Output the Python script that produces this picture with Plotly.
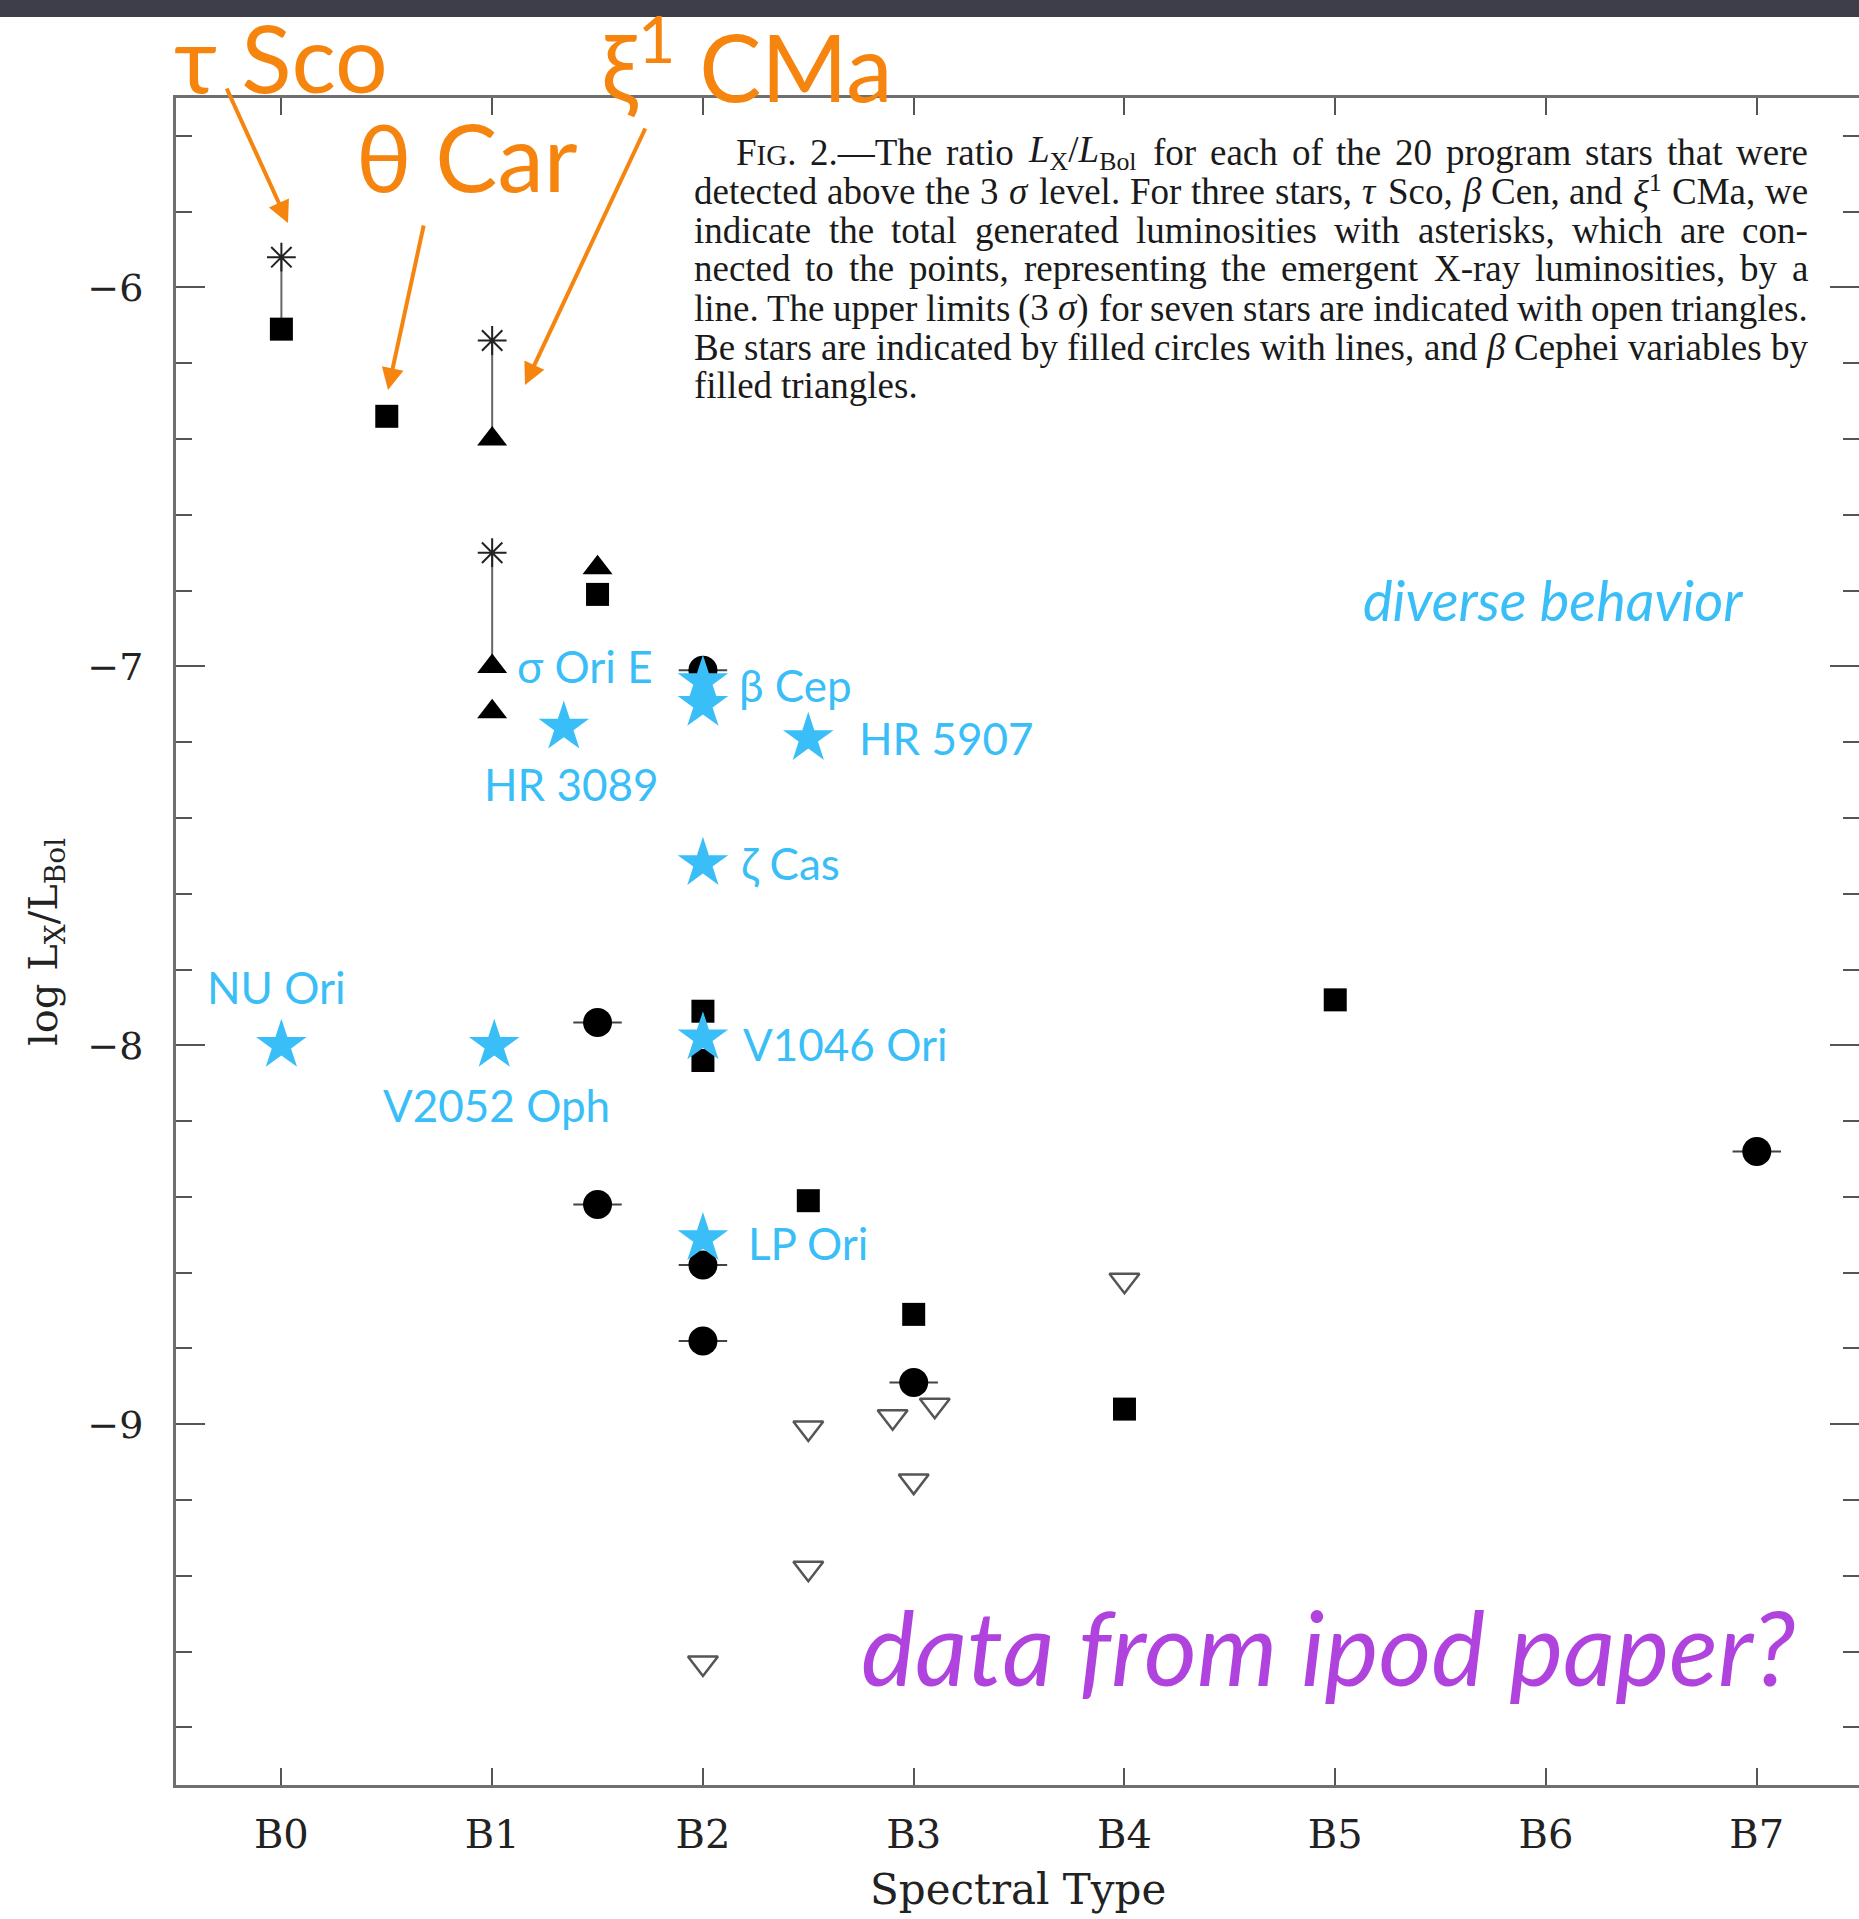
import plotly.graph_objects as go

# ---------------------------------------------------------------- data
# Spectral subtype on x (0 = B0 ... 7 = B7), log(Lx/Lbol) on y
TYPE_TICKS = [0, 1, 2, 3, 4, 5, 6, 7]
TYPE_LABELS = ["B0", "B1", "B2", "B3", "B4", "B5", "B6", "B7"]
LOG_TICKS = [-6, -7, -8, -9]

# X-ray detections (filled squares)
sq_x = [0, 0.5, 1.5, 2, 2, 2.5, 3, 4, 5]
sq_y = [-6.11, -6.34, -6.81, -7.91, -8.04, -8.41, -8.71, -8.96, -7.88]

# Be stars (filled circles with lines)
be_x = [1.5, 1.5, 2, 2, 2, 3, 7]
be_y = [-7.94, -8.42, -7.01, -8.58, -8.78, -8.89, -8.28]

# beta Cephei variables (filled triangles)
bc_x = [1, 1, 1, 1.5]
bc_y = [-6.40, -7.00, -7.12, -6.74]

# 3-sigma upper limits (open triangles)
ul_x = [4, 2.5, 2.9, 3.1, 3, 2.5, 2]
ul_y = [-8.62, -9.01, -8.98, -8.95, -9.15, -9.38, -9.63]

# total generated luminosities (asterisks) and the emergent point each joins
tot_x = [0, 1, 1]
tot_y = [-5.92, -6.14, -6.70]
emg_y = [-6.11, -6.40, -7.00]

# highlighted magnetic stars
mag_names = ["NU Ori", "V2052 Oph", "HR 3089", "σ Ori E", "β Cep",
             "HR 5907", "ζ Cas", "V1046 Ori", "LP Ori"]
mag_x = [0, 1.01, 1.34, 2, 2, 2.5, 2, 2, 2]
mag_y = [-8.0, -8.0, -7.16, -7.04, -7.10, -7.19, -7.52, -7.98, -8.51]
# label offsets from each star, in pixels (dx right, dy up)
mag_dx = [-76, -113, -82, -188, 34, 49, 36, 38, 43]
mag_dy = [58, -60, -57, 16, 19, 0, 0, -6, -4]

# figure caption (justified block)
CAPTION_SIZE = 37
SMALLCAP = "<span style='font-size:%dpx'>" % round(CAPTION_SIZE * 0.78)
CAPTION = [
    "F" + SMALLCAP + "IG</span>. 2.—The ratio <i>L</i><sub>X</sub>/<i>L</i><sub>Bol</sub> "
    "for each of the 20 program stars that were",
    "detected above the 3 <i>σ</i> level. For three stars, <i>τ</i> Sco, <i>β</i> Cen, "
    "and <i>ξ</i><sup>1</sup> CMa, we",
    "indicate the total generated luminosities with asterisks, which are con-",
    "nected to the points, representing the emergent X-ray luminosities, by a",
    "line. The upper limits (3 <i>σ</i>) for seven stars are indicated with open triangles.",
    "Be stars are indicated by filled circles with lines, and <i>β</i> Cephei variables by",
    "filled triangles.",
]

# ---------------------------------------------------------------- geometry
W, H = 1859, 1919
L, R, T, B = 176, 1859, 98, 1785
X_RANGE = [-0.5, 7.485]
Y_RANGE = [-9.952, -5.5]


def px(x):
    """figure pixel column -> paper x"""
    return (x - L) / (R - L)


def py(y):
    """figure pixel row -> paper y"""
    return (B - y) / (B - T)


def dx_(x):
    """figure pixel column -> data x"""
    return X_RANGE[0] + (x - L) / (R - L) * (X_RANGE[1] - X_RANGE[0])


def dy_(y):
    """figure pixel row -> data y"""
    return Y_RANGE[1] - (y - T) / (B - T) * (Y_RANGE[1] - Y_RANGE[0])


# Times advance widths (1/1000 em) used to justify the caption words
_TIMES = {" ": 250, "a": 444, "b": 500, "c": 444, "d": 500, "e": 444, "f": 333,
          "g": 500, "h": 500, "i": 278, "j": 278, "k": 500, "l": 278, "m": 778,
          "n": 500, "o": 500, "p": 500, "q": 500, "r": 333, "s": 389, "t": 278,
          "u": 500, "v": 500, "w": 722, "x": 500, "y": 500, "z": 444,
          "A": 722, "B": 667, "C": 667, "D": 722, "E": 611, "F": 556, "G": 722,
          "H": 722, "I": 333, "J": 389, "K": 722, "L": 611, "M": 889, "N": 722,
          "O": 722, "P": 556, "Q": 722, "R": 667, "S": 556, "T": 611, "U": 722,
          "V": 722, "W": 944, "X": 722, "Y": 722, "Z": 611,
          ".": 250, ",": 250, "-": 333, "(": 333, ")": 333, "—": 1000, "/": 278,
          "σ": 550, "τ": 440, "β": 500, "ξ": 440}


def split_words(s):
    """split on spaces that are not inside a markup tag"""
    words, cur, in_tag = [], "", False
    for ch in s:
        if ch == "<":
            in_tag = True
        elif ch == ">":
            in_tag = False
        if ch == " " and not in_tag:
            words.append(cur)
            cur = ""
        else:
            cur += ch
    words.append(cur)
    return words


def word_width(s, size):
    total, scale, i = 0.0, [1.0], 0
    while i < len(s):
        if s[i] == "<":
            j = s.index(">", i)
            tag = s[i + 1:j]
            if tag.startswith("/"):
                scale.pop()
            elif tag in ("sub", "sup"):
                scale.append(scale[-1] * 0.7)
            elif tag.startswith("span"):
                scale.append(scale[-1] * 0.78)
            else:
                scale.append(scale[-1])
            i = j + 1
            continue
        total += _TIMES.get(s[i], 500) * scale[-1]
        i += 1
    return total * size / 1000.0


ORANGE = "#F5850E"
BLUE = "#3ABEF7"
PURPLE = "#B042DD"
SLIDE_FONT = "Lato, 'Open Sans', sans-serif"
SERIF = "'Liberation Serif', 'DejaVu Serif', serif"
AXIS_FONT = "'DejaVu Serif', serif"

fig = go.Figure()

# lines joining total and emergent luminosities
for x0, yt, ye in zip(tot_x, tot_y, emg_y):
    fig.add_trace(go.Scatter(x=[x0, x0], y=[yt, ye], mode="lines",
                             line=dict(color="#666666", width=2),
                             hoverinfo="skip", showlegend=False))

fig.add_trace(go.Scatter(x=tot_x, y=tot_y, mode="markers", name="total",
                         marker=dict(symbol="asterisk-open", size=24,
                                     color="#222222",
                                     line=dict(color="#222222", width=2)),
                         showlegend=False))

fig.add_trace(go.Scatter(x=sq_x, y=sq_y, mode="markers", name="detections",
                         marker=dict(symbol="square", size=23, color="black"),
                         showlegend=False))

fig.add_trace(go.Scatter(x=be_x, y=be_y, mode="markers", name="Be stars",
                         marker=dict(symbol="circle", size=29, color="black"),
                         error_x=dict(type="constant", value=0.115, width=0,
                                      thickness=2, color="#444444"),
                         showlegend=False))

fig.add_trace(go.Scatter(x=bc_x, y=bc_y, mode="markers", name="beta Cep",
                         marker=dict(symbol="triangle-up", size=26, color="black"),
                         showlegend=False))

fig.add_trace(go.Scatter(x=ul_x, y=ul_y, mode="markers", name="upper limits",
                         marker=dict(symbol="triangle-down-open", size=26,
                                     color="#555555",
                                     line=dict(color="#555555", width=2.5)),
                         showlegend=False))

fig.add_trace(go.Scatter(x=mag_x, y=mag_y, mode="markers", name="magnetic",
                         marker=dict(symbol="star", size=38, color=BLUE),
                         showlegend=False))

# right-hand tick marks without a frame line
fig.add_trace(go.Scatter(x=[], y=[], yaxis="y2", showlegend=False,
                         hoverinfo="skip"))

annotations = []

# star labels
for name, x0, y0, ddx, ddy in zip(mag_names, mag_x, mag_y, mag_dx, mag_dy):
    annotations.append(dict(x=x0, y=y0, xref="x", yref="y", text=name,
                            showarrow=False, xanchor="left", yanchor="middle",
                            xshift=ddx, yshift=ddy,
                            font=dict(family=SLIDE_FONT, size=44, color=BLUE)))

annotations.append(dict(x=px(1361), y=py(599), xref="paper", yref="paper",
                        text="<i>diverse behavior</i>", showarrow=False,
                        xanchor="left", yanchor="middle",
                        font=dict(family=SLIDE_FONT, size=56, color=BLUE)))

annotations.append(dict(x=px(859), y=py(1646), xref="paper", yref="paper",
                        text="<i>data from ipod paper?</i>", showarrow=False,
                        xanchor="left", yanchor="middle",
                        font=dict(family=SLIDE_FONT, size=102, color=PURPLE)))

# orange star names with arrows
for text, lx, ly in [("τ Sco", 172, 57), ("θ Car", 354, 156),
                     ("ξ<sup>1</sup> CMa", 599, 60)]:
    annotations.append(dict(x=px(lx), y=py(ly), xref="paper", yref="paper",
                            text=text, showarrow=False, xanchor="left",
                            yanchor="middle",
                            font=dict(family=SLIDE_FONT, size=93, color=ORANGE)))

for (tx, ty), (hx, hy) in [((226, 87), (288, 223)),
                           ((424, 224), (388, 390)),
                           ((646, 127), (525, 385))]:
    annotations.append(dict(x=dx_(hx), y=dy_(hy), ax=dx_(tx), ay=dy_(ty),
                            xref="x", yref="y", axref="x", ayref="y",
                            text="", showarrow=True, arrowhead=2,
                            arrowsize=1.1, arrowwidth=4, arrowcolor=ORANGE,
                            standoff=0, startstandoff=0))

# caption block, fully justified word by word (last line left-aligned)
CAP_LEFT, CAP_RIGHT, CAP_INDENT = 693, 1807, 42
line_y = [152, 191, 230, 269, 308, 347, 386]
for i, (line, yy) in enumerate(zip(CAPTION, line_y)):
    words = split_words(line)
    widths = [word_width(w, CAPTION_SIZE) for w in words]
    x_start = CAP_LEFT + (CAP_INDENT if i == 0 else 0)
    if i < len(CAPTION) - 1 and len(words) > 1:
        gap = (CAP_RIGHT - x_start - sum(widths)) / (len(words) - 1)
    else:
        gap = _TIMES[" "] * CAPTION_SIZE / 1000.0
    xx = x_start
    for w, wd in zip(words, widths):
        annotations.append(dict(x=px(xx), y=py(yy), xref="paper", yref="paper",
                                text=w, showarrow=False, xanchor="left",
                                yanchor="middle", borderpad=0,
                                font=dict(family=SERIF, size=CAPTION_SIZE,
                                          color="#1a1a1a")))
        xx += wd + gap

# axis titles
annotations.append(dict(x=px(1017.5), y=py(1889), xref="paper", yref="paper",
                        text="Spectral Type", showarrow=False,
                        xanchor="center", yanchor="middle",
                        font=dict(family=AXIS_FONT, size=42, color="#222222")))
annotations.append(dict(x=px(46), y=py(942), xref="paper", yref="paper",
                        text="log L<sub>X</sub>/L<sub>Bol</sub>", showarrow=False,
                        textangle=-90, xanchor="center", yanchor="middle",
                        font=dict(family=AXIS_FONT, size=40, color="#222222")))

AXIS_GREY = "#6f6f6f"
TICK_GREY = "#555555"

fig.update_layout(
    width=W, height=H,
    margin=dict(l=L, r=W - R, t=T, b=H - B, pad=0),
    paper_bgcolor="white", plot_bgcolor="white",
    showlegend=False,
    annotations=annotations,
    shapes=[dict(type="rect", xref="paper", yref="paper",
                 x0=px(-5), x1=px(W + 5), y0=py(17), y1=py(-5),
                 fillcolor="#3d3e4a", line=dict(width=0), layer="above")],
    xaxis=dict(range=X_RANGE, tickmode="array", tickvals=TYPE_TICKS,
               ticktext=TYPE_LABELS, ticks="inside", ticklen=17, tickwidth=2,
               tickcolor=TICK_GREY, showline=True, linewidth=3,
               linecolor=AXIS_GREY, mirror="ticks", showgrid=False,
               zeroline=False, ticklabelstandoff=12,
               tickfont=dict(family=AXIS_FONT, size=40, color="#222222")),
    yaxis=dict(range=Y_RANGE, tickmode="array", tickvals=LOG_TICKS,
               ticktext=["\u2212" + str(abs(v)) for v in LOG_TICKS],
               ticks="inside", ticklen=29, tickwidth=2, tickcolor=TICK_GREY,
               minor=dict(dtick=0.2, tick0=0, ticks="inside", ticklen=16,
                          tickwidth=2, tickcolor=TICK_GREY),
               showline=True, linewidth=3, linecolor=AXIS_GREY,
               showgrid=False, zeroline=False, ticklabelstandoff=22,
               tickfont=dict(family=AXIS_FONT, size=38, color="#222222")),
    yaxis2=dict(range=Y_RANGE, overlaying="y", side="right",
                tickmode="array", tickvals=LOG_TICKS, showticklabels=False,
                ticks="inside", ticklen=29, tickwidth=2, tickcolor=TICK_GREY,
                minor=dict(dtick=0.2, tick0=0, ticks="inside", ticklen=16,
                           tickwidth=2, tickcolor=TICK_GREY),
                showline=False, showgrid=False, zeroline=False),
)

fig.write_html("out.html")
